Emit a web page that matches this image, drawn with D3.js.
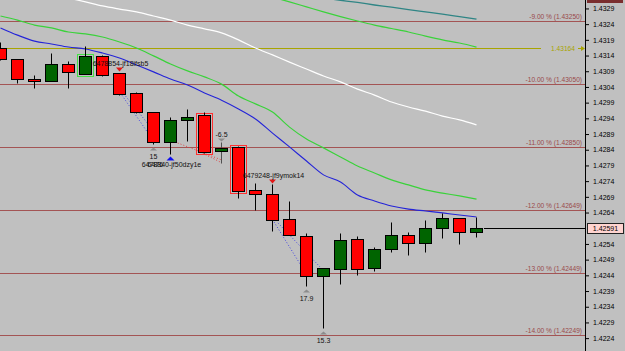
<!DOCTYPE html>
<html>
<head>
<meta charset="utf-8">
<script src="https://cdnjs.cloudflare.com/ajax/libs/d3/7.8.5/d3.min.js"></script>
<style>
body { margin: 0; background: #c0c0c0; }
svg { display: block; font-family: "Liberation Sans", Arial, sans-serif; }
</style>
</head>
<body>
<div id="chart"></div>
<script>
// candles, one per bar, left to right
var opens  = [1.43164, 1.43129, 1.43065, 1.43059, 1.43113, 1.43081, 1.43139, 1.43084, 1.43021, 1.42960,
              1.42865, 1.42935, 1.42951, 1.42836, 1.42849, 1.42712, 1.42699, 1.42619, 1.42565, 1.42438,
              1.42460, 1.42556, 1.42463, 1.42524, 1.42569, 1.42543, 1.42591, 1.42623, 1.42578];
var highs  = [1.43183, 1.43129, 1.43078, 1.43148, 1.43123, 1.43170, 1.43142, 1.43084, 1.43024, 1.42960,
              1.42944, 1.42970, 1.42960, 1.42865, 1.42852, 1.42734, 1.42731, 1.42677, 1.42575, 1.42463,
              1.42575, 1.42565, 1.42530, 1.42610, 1.42578, 1.42616, 1.42639, 1.42623, 1.42626];
var lows   = [1.43126, 1.43053, 1.43037, 1.43059, 1.43037, 1.43081, 1.43075, 1.43014, 1.42957, 1.42858,
              1.42826, 1.42868, 1.42830, 1.42798, 1.42686, 1.42648, 1.42581, 1.42569, 1.42406, 1.42272,
              1.42412, 1.42441, 1.42454, 1.42514, 1.42505, 1.42514, 1.42559, 1.42540, 1.42562];
var closes = [1.43129, 1.43065, 1.43059, 1.43113, 1.43088, 1.43139, 1.43078, 1.43018, 1.42960, 1.42865,
              1.42935, 1.42944, 1.42833, 1.42846, 1.42709, 1.42699, 1.42616, 1.42569, 1.42438, 1.42463,
              1.42553, 1.42460, 1.42524, 1.42569, 1.42543, 1.42591, 1.42623, 1.42578, 1.42591];

// moving averages (null = not drawn)
var maBlue  = [1.43228, 1.43205, 1.43186, 1.43177, 1.43167, 1.43161, 1.43148, 1.43132, 1.43110, 1.43088,
               1.43065, 1.43046, 1.43021, 1.42998, 1.42970, 1.42938, 1.42893, 1.42849, 1.42804, 1.42760,
               1.42737, 1.42696, 1.42677, 1.42661, 1.42651, 1.42645, 1.42639, 1.42632, 1.42626];
var maGreen = [1.43266, 1.43253, 1.43237, 1.43228, 1.43215, 1.43209, 1.43199, 1.43183, 1.43164, 1.43139,
               1.43113, 1.43091, 1.43072, 1.43049, 1.43011, 1.42986, 1.42960, 1.42912, 1.42874, 1.42846,
               1.42817, 1.42788, 1.42766, 1.42744, 1.42728, 1.42712, 1.42702, 1.42693, 1.42683];
var maWhite = [null, null, null, 1.43336, 1.43323, 1.43311, 1.43298, 1.43288, 1.43279, 1.43266,
               1.43253, 1.43237, 1.43225, 1.43212, 1.43190, 1.43164, 1.43142, 1.43119, 1.43097, 1.43075,
               1.43056, 1.43033, 1.43014, 1.42992, 1.42976, 1.42963, 1.42947, 1.42935, 1.42919];
var maGreen2 = [null, null, null, null, null, null, null, null, null, null,
                null, null, null, null, null, null, 1.43326, 1.43311, 1.43295, 1.43279,
                1.43264, 1.43250, 1.43237, 1.43226, 1.43215, 1.43202, 1.43190, 1.43180, 1.43167];
var maTeal  = [null, null, null, null, null, null, null, null, null, null,
               null, null, null, null, null, null, null, null, null, 1.43323,
               1.43316, 1.43309, 1.43301, 1.43294, 1.43286, 1.43279, 1.43272, 1.43264, 1.43256];

// percentage levels
var levelPrices = [1.43250, 1.43050, 1.42850, 1.42649, 1.42449, 1.42249];
var levelLabels = ["-9.00 % (1.43250)", "-10.00 % (1.43050)", "-11.00 % (1.42850)",
                   "-12.00 % (1.42649)", "-13.00 % (1.42449)", "-14.00 % (1.42249)"];
var markPrice = 1.43164;
var lastPrice = 1.42591;

// 1.4259 sits under the last price box, so it is left out
var axisTicks = [1.4329, 1.4324, 1.4319, 1.4314, 1.4309, 1.4304, 1.4299, 1.4294, 1.4289, 1.4284, 1.4279,
                 1.4274, 1.4269, 1.4264, 1.4254, 1.4249, 1.4244, 1.4239, 1.4234, 1.4229, 1.4224];

// trade lines: [bar from, price from, bar to, price to]
var blueTrades = [[7.05, 1.43021, 9.0, 1.42868], [7.25, 1.43018, 9.2, 1.42887],
                  [16.09, 1.42610, 17.91, 1.42451], [16.32, 1.42607, 18.79, 1.42467]];
var redTrades  = [[10.26, 1.42865, 13.03, 1.42807], [11.74, 1.42833, 13.03, 1.42798]];

// order tags and markers
var orderTags = [{bar: 7, price: 1.43110, text: "6478854-jf18ifsb5"},
                 {bar: 10, price: 1.42788, text: "6478840-jf50dzy1e"},
                 {bar: 16, price: 1.42754, text: "6479248-jf9ymok14"}];
var sellArrows = [{bar: 7, price: 1.43104}, {bar: 16, price: 1.42747}];
var buyArrows = [{bar: 10, price: 1.42820}];
var pipTags = [{bar: 9, price: 1.42849, text: "15", up: true},
               {bar: 13, price: 1.42878, text: "-6.5", up: false},
               {bar: 18, price: 1.42396, text: "17.9", up: true},
               {bar: 19, price: 1.42262, text: "15.3", up: true}];
var highlightBars = [{bar: 5, color: "#44e044"}, {bar: 12, color: "#ff3030"}, {bar: 14, color: "#ff3030"}];

var width = 625, height = 351, axisX = 585;

var svg = d3.select("#chart").append("svg")
    .attr("width", width).attr("height", height)
    .style("background", "#c0c0c0");

var x = d3.scaleLinear().domain([0, 28]).range([0.5, 476.5]);
var y = d3.scaleLinear().domain([1.4325, 1.4225]).range([21, 335]);
function py(v) { return Math.round(y(v)) + 0.5; }

var plot = svg.append("g");

// level lines
levelPrices.forEach(function(p, i) {
    plot.append("line").attr("x1", 0).attr("x2", axisX).attr("y1", py(p)).attr("y2", py(p))
        .attr("stroke", "#a35454").attr("stroke-width", 1);
    plot.append("text").attr("x", 582).attr("y", py(p) - 2.5)
        .attr("text-anchor", "end").attr("font-size", "6.6px").attr("fill", "#9a4a4a")
        .text(levelLabels[i]);
});

// mark line
plot.append("line").attr("x1", 0).attr("x2", 541).attr("y1", py(markPrice)).attr("y2", py(markPrice))
    .attr("stroke", "#a8a400");
plot.append("text").attr("x", 563).attr("y", py(markPrice) + 2.5).attr("text-anchor", "middle")
    .attr("font-size", "6.6px").attr("fill", "#a8a400").text(markPrice.toFixed(5));
plot.append("line").attr("x1", 578).attr("x2", 582).attr("y1", py(markPrice)).attr("y2", py(markPrice))
    .attr("stroke", "#a8a400");
plot.append("path").attr("d", "M581," + (py(markPrice) - 2.5) + "L585," + py(markPrice) + "L581," + (py(markPrice) + 2.5) + "Z")
    .attr("fill", "#a8a400");

// moving averages
function maLine(vals, color, w) {
    var line = d3.line()
        .defined(function(d) { return d != null; })
        .x(function(d, i) { return x(i); })
        .y(function(d) { return y(d); })
        .curve(d3.curveMonotoneX);
    plot.append("path").datum(vals).attr("d", line)
        .attr("fill", "none").attr("stroke", color).attr("stroke-width", w);
}
maLine(maTeal, "#2f8585", 1.3);
maLine(maGreen2, "#3ad23a", 1.2);
maLine(maWhite, "#ffffff", 1.2);
maLine(maGreen, "#3ad23a", 1.2);
maLine(maBlue, "#2424d8", 1.1);

// trade lines
function trades(list, color) {
    list.forEach(function(t) {
        plot.append("line").attr("x1", x(t[0])).attr("y1", y(t[1])).attr("x2", x(t[2])).attr("y2", y(t[3]))
            .attr("stroke", color).attr("stroke-width", 1).attr("stroke-dasharray", "1,2");
    });
}
trades(blueTrades, "#4646e0");
trades(redTrades, "#e04040");

// highlight boxes
highlightBars.forEach(function(h) {
    var top = py(Math.max(opens[h.bar], closes[h.bar])), bot = py(Math.min(opens[h.bar], closes[h.bar]));
    plot.append("rect").attr("x", x(h.bar) - 8).attr("y", top - 2).attr("width", 16).attr("height", bot - top + 4)
        .attr("fill", "none").attr("stroke", h.color).attr("stroke-width", 1);
});

// candles
var candles = plot.selectAll(".candle").data(d3.range(opens.length)).enter()
    .append("g").attr("class", "candle");
candles.append("line")
    .attr("x1", function(i) { return x(i); }).attr("x2", function(i) { return x(i); })
    .attr("y1", function(i) { return py(highs[i]); }).attr("y2", function(i) { return py(lows[i]); })
    .attr("stroke", function(i) { return i == 13 ? "#505050" : "#000"; });
candles.append("rect")
    .attr("x", function(i) { return x(i) - 6; })
    .attr("y", function(i) { return py(Math.max(opens[i], closes[i])); })
    .attr("width", 12)
    .attr("height", function(i) { return Math.max(2, py(Math.min(opens[i], closes[i])) - py(Math.max(opens[i], closes[i]))); })
    .attr("fill", function(i) { return closes[i] >= opens[i] ? "#006400" : "#ff0000"; })
    .attr("stroke", "#000").attr("stroke-width", 1);

// arrows and tags
sellArrows.forEach(function(a) {
    var cx = x(a.bar), cy = py(a.price);
    plot.append("path").attr("d", "M" + (cx - 3.5) + "," + cy + "L" + (cx + 3.5) + "," + cy + "L" + cx + "," + (cy + 4) + "Z")
        .attr("fill", "#e01818");
});
buyArrows.forEach(function(a) {
    var cx = x(a.bar), cy = py(a.price);
    plot.append("path").attr("d", "M" + (cx - 4) + "," + (cy + 4) + "L" + (cx + 4) + "," + (cy + 4) + "L" + cx + "," + cy + "Z")
        .attr("fill", "#1010f0");
});
pipTags.forEach(function(t) {
    var cx = x(t.bar), cy = py(t.price);
    var tri = t.up ? "M" + (cx - 3.5) + "," + (cy + 3) + "L" + (cx + 3.5) + "," + (cy + 3) + "L" + cx + "," + cy + "Z"
                   : "M" + (cx - 3.5) + "," + cy + "L" + (cx + 3.5) + "," + cy + "L" + cx + "," + (cy + 3) + "Z";
    plot.append("path").attr("d", tri).attr("fill", "#8c8c8c");
    plot.append("text").attr("x", cx).attr("y", t.up ? cy + 11 : cy - 2)
        .attr("text-anchor", "middle").attr("font-size", "7px").attr("fill", "#111").text(t.text);
});
orderTags.forEach(function(t) {
    plot.append("text").attr("x", x(t.bar) + 1).attr("y", py(t.price))
        .attr("text-anchor", "middle").attr("font-size", "7px").attr("fill", "#111").text(t.text);
});
// a second tag printed over the first characters at bar 10, as in the terminal
plot.append("text").attr("x", x(10) - 23).attr("y", py(orderTags[1].price))
    .attr("font-size", "7px").attr("fill", "#111").text("6476");

// last price line
plot.append("line").attr("x1", 484).attr("x2", axisX).attr("y1", py(lastPrice)).attr("y2", py(lastPrice))
    .attr("stroke", "#000");

// price axis
var axis = svg.append("g").attr("transform", "translate(" + axisX + ",0)")
    .call(d3.axisRight(y).tickValues(axisTicks).tickSize(4).tickPadding(4).tickFormat(d3.format(".4f")));
axis.select(".domain").remove();
axis.selectAll("text").attr("font-size", "7px").attr("font-family", "Liberation Sans, Arial, sans-serif").attr("fill", "#000");
axis.selectAll("line").attr("stroke", "#000");
svg.append("line").attr("x1", axisX + 0.5).attr("x2", axisX + 0.5).attr("y1", 0).attr("y2", height)
    .attr("stroke", "#000");

svg.append("rect").attr("x", 587.5).attr("y", py(lastPrice) - 5).attr("width", 36).attr("height", 10)
    .attr("fill", "#ffd4d0").attr("stroke", "#222");
svg.append("text").attr("x", 605.5).attr("y", py(lastPrice) + 2.5).attr("text-anchor", "middle")
    .attr("font-size", "7px").attr("fill", "#000").text(lastPrice.toFixed(5));
svg.append("rect").attr("x", 587).attr("y", -8).attr("width", 36).attr("height", 11)
    .attr("fill", "#7a2e2e");
</script>
</body>
</html>
